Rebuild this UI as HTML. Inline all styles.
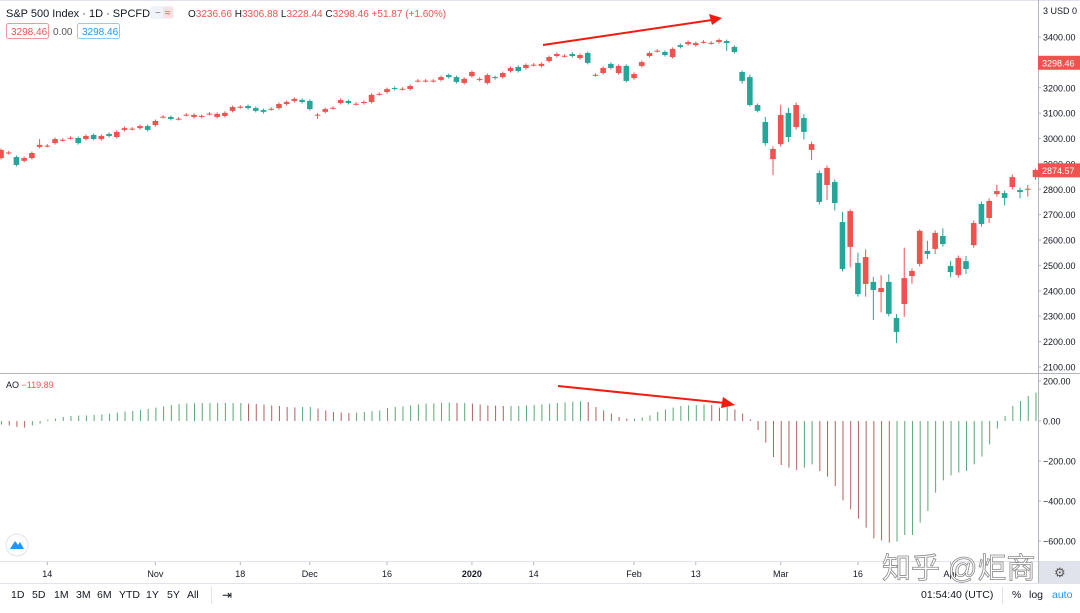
<!DOCTYPE html>
<html><head><meta charset="utf-8">
<style>
html,body{margin:0;padding:0;background:#fff;}
body{width:1080px;height:608px;overflow:hidden;font-family:"Liberation Sans","Noto Sans CJK SC",sans-serif;}
svg text{font-family:"Liberation Sans","Noto Sans CJK SC",sans-serif;}
</style></head>
<body>
<svg id="chart" width="1080" height="608" viewBox="0 0 1080 608" xmlns="http://www.w3.org/2000/svg">
  <rect x="0" y="0" width="1080" height="608" fill="#ffffff"/>
  <line x1="0" y1="0.5" x2="1080" y2="0.5" stroke="#e0e3eb"/>
  <g id="priceGrid"></g>
  <g id="candles"></g>
  <g id="aoBars"></g>
  <line x1="0" y1="373.5" x2="1080" y2="373.5" stroke="#b2b5be"/>
  <line x1="0" y1="561.5" x2="1080" y2="561.5" stroke="#e0e3eb"/>
  <line x1="0" y1="583.5" x2="1080" y2="583.5" stroke="#e0e3eb"/>
  <line x1="1038.5" y1="0" x2="1038.5" y2="583" stroke="#b2b5be"/>
  <g id="priceAxis"></g>
  <g id="aoAxis"></g>
  <g id="timeAxis"></g>

  <g>
    <text x="6" y="17" font-size="11" fill="#131722">S&amp;P 500 Index · 1D · SPCFD</text>
    <rect x="150" y="6" width="24" height="13" rx="3" fill="#f0f3fa"/>
    <text x="155" y="16" font-size="10" fill="#787b86">−</text>
    <rect x="163" y="7" width="10" height="11" rx="2" fill="#fbdfe2"/>
    <text x="165" y="16" font-size="10" fill="#ef5350">≈</text>
    <text x="188" y="17" font-size="10" fill="#ef5350"><tspan fill="#131722">O</tspan>3236.66 <tspan fill="#131722">H</tspan>3306.88 <tspan fill="#131722">L</tspan>3228.44 <tspan fill="#131722">C</tspan>3298.46 +51.87 (+1.60%)</text>
    <rect x="6.5" y="23.5" width="42" height="15" rx="2" fill="#fff" stroke="#ef9a9a"/>
    <text x="11" y="35" font-size="10" fill="#ef5350">3298.46</text>
    <text x="53" y="35" font-size="10" fill="#555">0.00</text>
    <rect x="77.5" y="23.5" width="42" height="15" rx="2" fill="#fff" stroke="#90caf9"/>
    <text x="82" y="35" font-size="10" fill="#2196f3">3298.46</text>
    <text x="6" y="388" font-size="9" fill="#131722">AO <tspan fill="#ef5350">−119.89</tspan></text>
  </g>

  <g>
    <line x1="543" y1="45" x2="712" y2="20" stroke="#f21b0f" stroke-width="2"/>
    <polygon points="722,18 709,14 712,25" fill="#f21b0f"/>
  </g>
  <g>
    <line x1="558" y1="386" x2="725" y2="403" stroke="#f21b0f" stroke-width="2"/>
    <polygon points="735,405 723,397 721,408" fill="#f21b0f"/>
  </g>

  <g>
    <circle cx="17" cy="545" r="11" fill="#fff" stroke="#e0e3eb"/>
    <path d="M10 549 L15 541 L18 545 L20 542 L24 549 Z" fill="#2196f3"/>
  </g>

  <rect x="1039" y="562" width="41" height="21" fill="#e0e3eb"/>
  <text x="1054" y="577" font-size="13" fill="#555">⚙</text>

  <text x="882" y="578" font-size="29" fill="#ffffff" stroke="#8a8a8a" stroke-width="0.8">知乎 @炬商</text>

  <g font-size="10.5" fill="#131722">
    <text x="11" y="598">1D</text>
    <text x="32" y="598">5D</text>
    <text x="54" y="598">1M</text>
    <text x="76" y="598">3M</text>
    <text x="97" y="598">6M</text>
    <text x="119" y="598">YTD</text>
    <text x="146" y="598">1Y</text>
    <text x="167" y="598">5Y</text>
    <text x="187" y="598">All</text>
    <line x1="211.5" y1="587" x2="211.5" y2="604" stroke="#e0e3eb"/>
    <text x="222" y="599" font-size="12">⇥</text>
    <text x="921" y="598">01:54:40 (UTC)</text>
    <line x1="1002.5" y1="587" x2="1002.5" y2="604" stroke="#e0e3eb"/>
    <text x="1012" y="598">%</text>
    <text x="1029" y="598">log</text>
    <text x="1052" y="598" fill="#2196f3">auto</text>
  </g>
</svg>
<script>
const opens = [2923,2943,2927,2912,2923,2967,2971,2982,2994,3002,
3002,2998,3014,2998,3018,3006,3034,3038,3041,3049,
3053,3085,3085,3077,3093,3085,3085,3097,3085,3089,
3109,3124,3128,3120,3112,3116,3120,3136,3148,3152,
3148,3093,3105,3120,3140,3148,3136,3140,3144,3175,
3183,3199,3195,3195,3227,3227,3227,3231,3250,3242,
3219,3246,3231,3219,3242,3242,3266,3282,3278,3290,
3286,3305,3325,3325,3333,3317,3337,3250,3258,3294,
3258,3286,3238,3286,3325,3345,3341,3321,3368,3372,
3368,3380,3376,3380,3384,3361,3262,3242,3132,3065,
2919,2978,3101,3045,3081,2955,2864,2817,2829,2671,
2573,2510,2427,2435,2395,2435,2293,2348,2458,2506,
2557,2565,2616,2498,2462,2517,2580,2742,2687,2781,
2785,2809,2797,2801,2848];
const closes = [2955,2945,2896,2923,2943,2975,2972,2998,2995,3003,
2982,3010,2998,3010,3010,3026,3041,3039,3049,3034,
3069,3086,3077,3078,3094,3093,3089,3098,3097,3101,
3124,3125,3120,3109,3105,3117,3136,3144,3156,3144,
3116,3094,3116,3121,3152,3140,3137,3144,3172,3176,
3195,3195,3196,3207,3228,3228,3228,3242,3242,3223,
3235,3262,3235,3250,3238,3258,3278,3266,3290,3291,
3294,3321,3333,3326,3325,3329,3298,3251,3278,3278,
3286,3227,3254,3301,3337,3346,3329,3353,3361,3380,
3376,3381,3377,3388,3376,3341,3227,3132,3109,2982,
2959,3093,3006,3132,3026,2978,2750,2884,2746,2486,
2714,2387,2533,2403,2411,2309,2238,2450,2478,2636,
2545,2628,2584,2474,2529,2486,2667,2663,2754,2793,
2766,2848,2789,2802,2876];
const upWick = [6,6,6,6,6,23,6,6,6,6, 6,6,6,6,6,6,6,6,6,6, 6,6,6,6,6,6,6,6,6,6, 6,6,6,6,6,6,6,6,6,6,
6,6,6,6,6,6,6,6,6,6, 6,6,6,6,6,6,6,6,6,6, 6,6,6,6,6,6,6,6,6,6, 6,6,6,6,8,6,6,6,6,6,
6,6,6,6,6,6,6,6,6,6, 6,6,6,6,6,6,6,10,6,20, 10,40,20,10,15,10,10,10,10,40,
6,40,30,20,50,30,15,120,10,6, 40,10,30,20,10,20,10,10,10,25, 10,10,10,15,6];
const downWick = [6,6,6,6,6,6,6,6,6,6, 6,6,6,6,6,6,6,6,6,6, 6,6,6,6,6,6,6,6,6,6, 6,6,6,6,6,6,6,6,6,6,
6,16,6,6,6,6,6,6,6,6, 6,6,6,6,6,6,6,6,6,6, 6,6,6,6,6,6,6,6,6,6, 6,6,6,6,6,6,6,6,6,6,
6,6,6,6,6,6,6,6,6,6, 6,6,6,6,31,6,10,6,6,10, 63,10,20,10,30,40,10,60,30,10,
80,10,50,118,80,10,44,50,30,10, 20,20,10,20,10,20,10,10,20,10, 30,10,25,30,10];
const aoValues = [-18,-22,-30,-33,-22,-13,7,12,20,25,
27,28,30,33,37,42,47,50,55,60,
67,73,80,85,88,88,90,90,90,90,
90,90,87,85,82,78,75,70,68,70,
70,62,53,45,42,40,42,45,48,53,
65,70,73,78,83,87,88,92,92,90,
90,87,83,78,77,75,75,75,78,80,
83,87,90,93,97,98,95,70,53,37,
20,12,12,18,28,45,57,67,75,78,
80,82,80,67,72,58,37,8,-45,-108,
-180,-220,-233,-245,-233,-217,-250,-278,-325,-397,
-442,-488,-533,-587,-597,-608,-603,-570,-570,-508,
-450,-358,-297,-272,-258,-250,-217,-178,-117,-38,
25,75,100,125,142];
const priceTicks = [3400,3300,3200,3100,3000,2900,2800,2700,2600,2500,2400,2300,2200,2100];
const aoTicks = [200,0,-200,-400,-600];
const timeLabels = ["14","Nov","18","Dec","16","2020","14","Feb","13","Mar","16","Apr"];
const timeLabelBars = [6,20,31,40,50,61,69,82,90,101,111,123];

const NS = "http://www.w3.org/2000/svg";
const xScale = i => 1 + i * 7.72;
const yPrice = p => 37 + (3400 - p) * 0.2538;
const yAO = v => 421 - v * 0.2;
function mk(tag, attrs, parent){const e=document.createElementNS(NS,tag);for(const k in attrs)e.setAttribute(k,attrs[k]);parent.appendChild(e);return e;}

const RED="#ef5350", TEAL="#26a69a";
const cg=document.getElementById('candles');
for(let i=0;i<opens.length;i++){
  const o=opens[i],c=closes[i],hi=Math.max(o,c)+upWick[i],lo=Math.min(o,c)-downWick[i];
  const col=c>=o?RED:TEAL; const x=xScale(i);
  const g=mk('g',{},cg);
  
  
  mk('line',{x1:x,x2:x,y1:yPrice(hi),y2:yPrice(lo),stroke:col,'stroke-width':1},g);
  const t=yPrice(Math.max(o,c)), b=yPrice(Math.min(o,c));
  mk('rect',{x:x-2.8,y:t,width:5.6,height:Math.max(1,b-t),fill:col},g);
}
const ag=document.getElementById('aoBars');
for(let i=0;i<aoValues.length;i++){
  const v=aoValues[i], prev=i>0?aoValues[i-1]:v;
  const col=v>=prev?"#5aa874":"#b0605e";
  const x=xScale(i)+0.5;
  const l=mk('line',{x1:x,x2:x,y1:yAO(0),y2:yAO(v),stroke:col,'stroke-width':1},ag);
  
  
}
const pa=document.getElementById('priceAxis');
priceTicks.forEach(p=>{
  const y=yPrice(p);
  mk('line',{x1:1038,x2:1041,y1:y,y2:y,stroke:'#b2b5be'},pa);
  const t=mk('text',{x:1043,y:y+3.5,'font-size':9,fill:'#131722'},pa);
  t.textContent=p.toFixed(2);
  
  
});
{
  const t=mk('text',{x:1043,y:14,'font-size':9,fill:'#131722'},pa); t.textContent="3 USD 0";
  
  
  const y1=yPrice(3298.46);
  mk('rect',{x:1038,y:y1-7,width:42,height:14,fill:RED},pa);
  const l1=mk('text',{x:1042,y:y1+3.5,'font-size':9,fill:'#fff'},pa); l1.textContent="3298.46";
  
  
  const y2=yPrice(2874.57);
  mk('rect',{x:1038,y:y2-7,width:42,height:14,fill:RED},pa);
  const l2=mk('text',{x:1042,y:y2+3.5,'font-size':9,fill:'#fff'},pa); l2.textContent="2874.57";
  
  
}
const aa=document.getElementById('aoAxis');
aoTicks.forEach(v=>{
  const y=yAO(v);
  mk('line',{x1:1038,x2:1041,y1:y,y2:y,stroke:'#b2b5be'},aa);
  const t=mk('text',{x:1043,y:y+3.5,'font-size':9,fill:'#131722'},aa);
  t.textContent=(v<0?"−":"")+Math.abs(v).toFixed(2);
  
  
});
const ta=document.getElementById('timeAxis');
timeLabels.forEach((s,k)=>{
  const x=xScale(timeLabelBars[k]);
  mk('line',{x1:x,x2:x,y1:562,y2:565,stroke:'#b2b5be'},ta);
  const t=mk('text',{x:x,y:577,'font-size':9,fill:'#131722','text-anchor':'middle','font-weight':s==="2020"?"bold":"normal"},ta);
  t.textContent=s;
  
  
});
</script>
</body></html>
